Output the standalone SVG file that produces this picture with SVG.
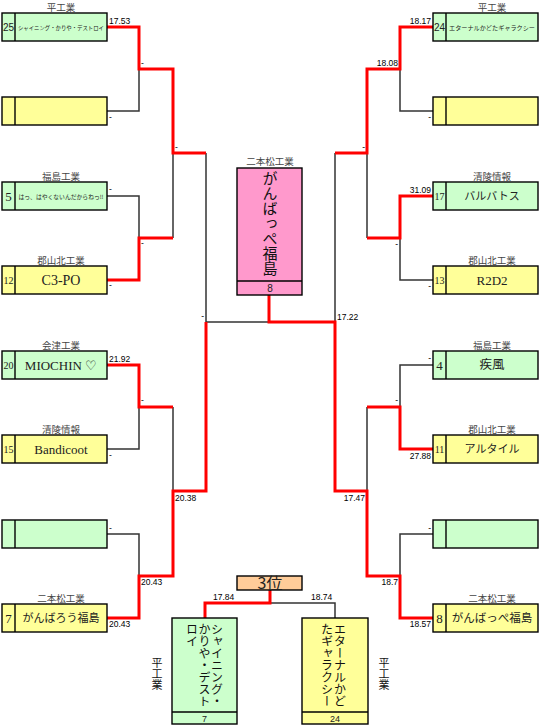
<svg xmlns="http://www.w3.org/2000/svg" width="540" height="726" viewBox="0 0 540 726">
<style>
.g{fill:#CCFFCC;stroke:#000;stroke-width:1.4}
.y{fill:#FFFF99;stroke:#000;stroke-width:1.4}
.p{fill:#FF99CC;stroke:#000;stroke-width:1.4}
.o{fill:#FFCC99;stroke:#000;stroke-width:1.4}
.dv{stroke:#000;stroke-width:1.4}
.ln{stroke:#333;stroke-width:1.5;fill:none}
.rd{stroke:#FF0000;stroke-width:3;fill:none}
.sc{font-family:"Liberation Sans",Arial,sans-serif;font-size:8.5px;fill:#000}
.scr{font-family:"Liberation Sans",Arial,sans-serif;font-size:8.5px;fill:#000;text-anchor:end}
.sch{font-family:"Noto Sans CJK JP",sans-serif;font-size:9.5px;fill:#444;text-anchor:middle}
.nm{font-family:"Noto Sans CJK JP",sans-serif;fill:#222;text-anchor:middle}
.se{font-family:"Liberation Serif","Times New Roman",serif;fill:#222;text-anchor:middle}
.ns{font-family:"Liberation Sans",Arial,sans-serif;fill:#222;text-anchor:middle}
.vt{font-family:"Noto Sans CJK JP",sans-serif;fill:#111;writing-mode:vertical-rl}
</style>

<g id="connectors">
  <!-- gray losing lines -->
  <path class="ln" d="M107,111 H139 V69"/>
  <path class="ln" d="M107,196 H139 V238"/>
  <path class="ln" d="M173,153 V238"/>
  <path class="ln" d="M107,449 H139 V407"/>
  <path class="ln" d="M173,407 V491"/>
  <path class="ln" d="M107,534 H139 V576"/>
  <path class="ln" d="M206,153 V322 H269"/>
  <path class="ln" d="M433,111 H400 V69"/>
  <path class="ln" d="M433,280 H400 V238"/>
  <path class="ln" d="M367,153 V238"/>
  <path class="ln" d="M433,365 H400 V407"/>
  <path class="ln" d="M367,407 V491"/>
  <path class="ln" d="M433,534 H400 V576"/>
  <path class="ln" d="M335,153 V322"/>
  <path class="ln" d="M270,603 H335 V618"/>
  <!-- red winning lines -->
  <path class="rd" d="M107,27 H139 V69 H173 V153 H206"/>
  <path class="rd" d="M107,280 H139 V238 H173"/>
  <path class="rd" d="M107,365 H139 V407 H173"/>
  <path class="rd" d="M107,618 H139 V576 H173 V491 H206 V322"/>
  <path class="rd" d="M433,27 H400 V69 H367 V153 H335"/>
  <path class="rd" d="M433,196 H400 V238 H367"/>
  <path class="rd" d="M433,449 H400 V407 H367"/>
  <path class="rd" d="M433,618 H400 V576 H367 V491 H335 V322 H269 V295"/>
  <path class="rd" d="M270,590 V603 H205 V618"/>
  <!-- scores -->
  <text class="sc" x="109" y="24">17.53</text>
  <text class="sc" x="109" y="120">-</text>
  <text class="sc" x="109" y="192">-</text>
  <text class="sc" x="109" y="288">-</text>
  <text class="sc" x="109" y="362">21.92</text>
  <text class="sc" x="109" y="458">-</text>
  <text class="sc" x="109" y="531">-</text>
  <text class="sc" x="109" y="627">20.43</text>
  <text class="sc" x="141" y="66">-</text>
  <text class="sc" x="141" y="246">-</text>
  <text class="sc" x="141" y="403">-</text>
  <text class="sc" x="141" y="585">20.43</text>
  <text class="sc" x="175" y="150">-</text>
  <text class="sc" x="175" y="501">20.38</text>
  <text class="scr" x="204" y="319">-</text>
  <text class="sc" x="337" y="320">17.22</text>
  <text class="scr" x="431" y="24">18.17</text>
  <text class="scr" x="431" y="120">-</text>
  <text class="scr" x="431" y="193">31.09</text>
  <text class="scr" x="431" y="289">-</text>
  <text class="scr" x="431" y="361">-</text>
  <text class="scr" x="431" y="459">27.88</text>
  <text class="scr" x="431" y="531">-</text>
  <text class="scr" x="431" y="627">18.57</text>
  <text class="scr" x="398" y="66">18.08</text>
  <text class="scr" x="398" y="247">-</text>
  <text class="scr" x="398" y="403">-</text>
  <text class="scr" x="398" y="585">18.7</text>
  <text class="scr" x="365" y="150">-</text>
  <text class="scr" x="365" y="501">17.47</text>
  <text class="sc" x="213" y="600">17.84</text>
  <text class="sc" x="311" y="600">18.74</text>
</g>

<!-- left side -->
<g id="team-L25">
  <text class="sch" x="61" y="11">平工業</text>
  <rect class="g" x="2" y="13" width="105" height="28"/>
  <line class="dv" x1="15" y1="13" x2="15" y2="41"/>
  <text class="ns" x="8.5" y="31" font-size="10">25</text>
  <text class="nm" x="61" y="30" font-size="5.6" textLength="86" lengthAdjust="spacingAndGlyphs">シャイニング・かりや・デストロイ</text>
</g>
<g id="team-L-empty1">
  <rect class="y" x="2" y="97" width="105" height="28"/>
  <line class="dv" x1="15" y1="97" x2="15" y2="125"/>
</g>
<g id="team-L5">
  <text class="sch" x="61" y="180">福島工業</text>
  <rect class="g" x="2" y="182" width="105" height="28"/>
  <line class="dv" x1="15" y1="182" x2="15" y2="210"/>
  <text class="se" x="8.5" y="201" font-size="13">5</text>
  <text class="nm" x="61" y="199" font-size="5.6" textLength="85" lengthAdjust="spacingAndGlyphs">はっ、はやくないんだからねっ!!</text>
</g>
<g id="team-L12">
  <text class="sch" x="61" y="264">郡山北工業</text>
  <rect class="y" x="2" y="266" width="105" height="28"/>
  <line class="dv" x1="15" y1="266" x2="15" y2="294"/>
  <text class="se" x="8.5" y="284" font-size="10">12</text>
  <text class="se" x="61" y="285" font-size="14">C3-PO</text>
</g>
<g id="team-L20">
  <text class="sch" x="61" y="349">会津工業</text>
  <rect class="g" x="2" y="351" width="105" height="28"/>
  <line class="dv" x1="15" y1="351" x2="15" y2="379"/>
  <text class="se" x="8.5" y="369" font-size="10">20</text>
  <text class="se" x="61" y="370" font-size="13">MIOCHIN ♡</text>
</g>
<g id="team-L15">
  <text class="sch" x="61" y="433">清陵情報</text>
  <rect class="y" x="2" y="435" width="105" height="28"/>
  <line class="dv" x1="15" y1="435" x2="15" y2="463"/>
  <text class="se" x="8.5" y="453" font-size="10">15</text>
  <text class="se" x="61" y="454" font-size="13">Bandicoot</text>
</g>
<g id="team-L-empty2">
  <rect class="g" x="2" y="520" width="105" height="28"/>
  <line class="dv" x1="15" y1="520" x2="15" y2="548"/>
</g>
<g id="team-L7">
  <text class="sch" x="61" y="602">二本松工業</text>
  <rect class="y" x="2" y="604" width="105" height="28"/>
  <line class="dv" x1="15" y1="604" x2="15" y2="632"/>
  <text class="se" x="8.5" y="623" font-size="13">7</text>
  <text class="nm" x="61" y="622" font-size="11">がんばろう福島</text>
</g>

<!-- right side -->
<g id="team-R24">
  <text class="sch" x="492" y="11">平工業</text>
  <rect class="g" x="433" y="13" width="105" height="28"/>
  <line class="dv" x1="446" y1="13" x2="446" y2="41"/>
  <text class="ns" x="439.5" y="31" font-size="10">24</text>
  <text class="nm" x="492" y="30" font-size="6.2" textLength="86" lengthAdjust="spacingAndGlyphs">エターナルかどたギャラクシー</text>
</g>
<g id="team-R-empty1">
  <rect class="y" x="433" y="97" width="105" height="28"/>
  <line class="dv" x1="446" y1="97" x2="446" y2="125"/>
</g>
<g id="team-R17">
  <text class="sch" x="492" y="180">清陵情報</text>
  <rect class="g" x="433" y="182" width="105" height="28"/>
  <line class="dv" x1="446" y1="182" x2="446" y2="210"/>
  <text class="se" x="439.5" y="200" font-size="10">17</text>
  <text class="nm" x="492" y="200" font-size="11">バルバトス</text>
</g>
<g id="team-R13">
  <text class="sch" x="492" y="264">郡山北工業</text>
  <rect class="y" x="433" y="266" width="105" height="28"/>
  <line class="dv" x1="446" y1="266" x2="446" y2="294"/>
  <text class="se" x="439.5" y="284" font-size="10">13</text>
  <text class="se" x="492" y="285" font-size="13">R2D2</text>
</g>
<g id="team-R4">
  <text class="sch" x="492" y="349">福島工業</text>
  <rect class="g" x="433" y="351" width="105" height="28"/>
  <line class="dv" x1="446" y1="351" x2="446" y2="379"/>
  <text class="se" x="439.5" y="370" font-size="13">4</text>
  <text class="nm" x="492" y="369" font-size="12.5">疾風</text>
</g>
<g id="team-R11">
  <text class="sch" x="492" y="433">郡山北工業</text>
  <rect class="y" x="433" y="435" width="105" height="28"/>
  <line class="dv" x1="446" y1="435" x2="446" y2="463"/>
  <text class="se" x="439.5" y="453" font-size="10">11</text>
  <text class="nm" x="492" y="453" font-size="11">アルタイル</text>
</g>
<g id="team-R-empty2">
  <rect class="g" x="433" y="520" width="105" height="28"/>
  <line class="dv" x1="446" y1="520" x2="446" y2="548"/>
</g>
<g id="team-R8">
  <text class="sch" x="492" y="602">二本松工業</text>
  <rect class="y" x="433" y="604" width="105" height="28"/>
  <line class="dv" x1="446" y1="604" x2="446" y2="632"/>
  <text class="se" x="439.5" y="623" font-size="13">8</text>
  <text class="nm" x="492" y="622" font-size="11.5">がんばっぺ福島</text>
</g>

<!-- champion -->
<g id="champion">
  <text class="sch" x="270" y="165">二本松工業</text>
  <rect class="p" x="237" y="168" width="65" height="127"/>
  <line class="dv" x1="237" y1="281" x2="302" y2="281"/>
  <text class="vt" x="270" y="171" font-size="15">がんばっぺ福島</text>
  <text class="ns" x="270" y="292" font-size="10" fill="#555">8</text>
</g>

<!-- third place -->
<g id="third-label">
  <rect class="o" x="237" y="576" width="65" height="14"/>
  <text class="nm" x="270" y="589" font-size="16" fill="#000">3位</text>
</g>
<g id="third-left">
  <rect class="g" x="172" y="618" width="65" height="106"/>
  <line class="dv" x1="172" y1="712" x2="237" y2="712"/>
  <text class="vt" x="217" y="623" font-size="12">シャイニング・</text>
  <text class="vt" x="204.5" y="623" font-size="12">かりや・デスト</text>
  <text class="vt" x="192" y="623" font-size="12">ロイ</text>
  <text class="ns" x="204.5" y="722" font-size="9">7</text>
  <text class="vt" x="157" y="657" font-size="11">平工業</text>
</g>
<g id="third-right">
  <rect class="y" x="302" y="618" width="66" height="106"/>
  <line class="dv" x1="302" y1="712" x2="368" y2="712"/>
  <text class="vt" x="340" y="623" font-size="12">エターナルかど</text>
  <text class="vt" x="327" y="623" font-size="12">たギャラクシー</text>
  <text class="ns" x="335" y="722" font-size="9">24</text>
  <text class="vt" x="384" y="657" font-size="11">平工業</text>
</g>
</svg>
